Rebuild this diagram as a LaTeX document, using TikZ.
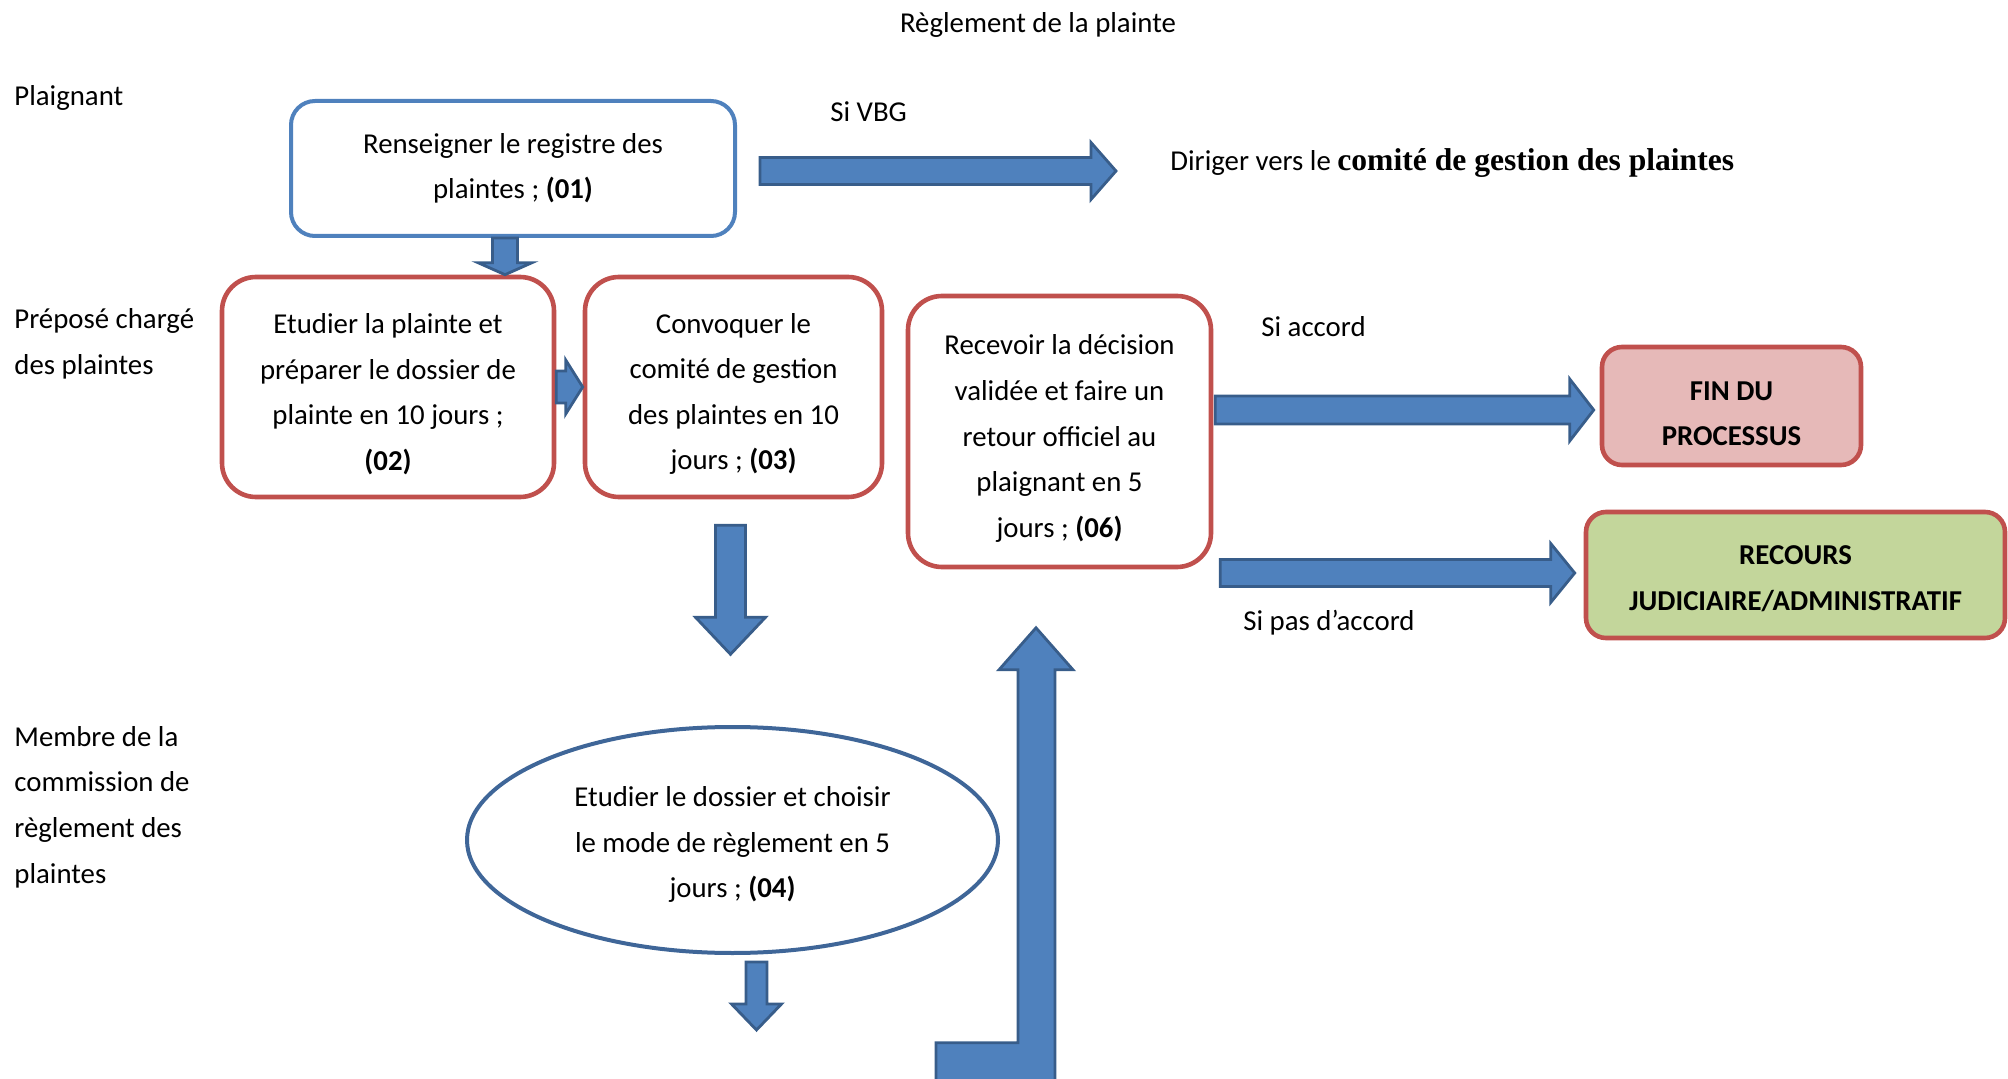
\documentclass[tikz,border=0pt]{standalone}
\usepackage{fontspec}
\setmainfont{Carlito}
\newfontfamily\serifbold{Liberation Serif}
\usetikzlibrary{calc, positioning, shapes.geometric}

\definecolor{arrowfill}{HTML}{4F81BD}
\definecolor{arrowline}{HTML}{385D8A}
\definecolor{boxblue}{HTML}{4F81BD}
\definecolor{boxred}{HTML}{C0504D}
\definecolor{ovalline}{HTML}{3F6698}
\definecolor{finfill}{HTML}{E6B9B8}
\definecolor{recfill}{HTML}{C3D69B}

\newcommand{\lift}[1]{\rule{0pt}{#1}}
\newcommand{\blockarrow}[5]{%
  \coordinate (hb) at ($(#2)!#5!(#1)$);
  \draw[arrow body] ($(#1)!#3!90:(#2)$) -- ($(hb)!#3!90:(#2)$) -- ($(hb)!#4!90:(#2)$) -- (#2)
    -- ($(hb)!#4!-90:(#2)$) -- ($(hb)!#3!-90:(#2)$) -- ($(#1)!#3!-90:(#2)$) -- cycle;}

\begin{document}
\begin{tikzpicture}[x=0.5pt, y=-0.5pt,
  every node/.style={font=\fontsize{14.4}{22.8}\selectfont, align=center, inner sep=0pt},
  lane/.style={align=left, anchor=west},
  first box/.style={draw=boxblue, line width=2pt, rounded corners=12pt, minimum width=222pt, minimum height=67.5pt},
  task box/.style={draw=boxred, line width=2.3pt, rounded corners=17pt},
  end box/.style={draw=boxred, line width=2.3pt, rounded corners=10pt, font=\fontsize{14.4}{22.8}\selectfont\bfseries},
  oval/.style={ellipse, draw=ovalline, line width=2pt, minimum width=265.5pt, minimum height=113pt},
  arrow body/.style={draw=arrowline, fill=arrowfill, line width=1.4pt, line join=miter}]
\useasboundingbox (0,0) rectangle (2008,1079);
\node (title) at (1038,25) {Règlement de la plainte};
\node[lane] (plaignant) at (14,98) {Plaignant};
\node[lane] (prepose) at (14,344) {Préposé chargé\\des plaintes};
\node[lane] (membre) at (14,807) {Membre de la\\commission de\\règlement des\\plaintes};

\node[first box] (b1) at (513,168.5) {Renseigner le registre des\\plaintes ; \textbf{(01)}};
\node[task box, minimum width=166pt, minimum height=110pt] (b2) at (388,387) {\lift{17pt}Etudier la plainte et\\préparer le dossier de\\plainte en 10 jours ;\\\textbf{(02)}};
\node[task box, minimum width=148.5pt, minimum height=110pt, right=13.2pt of b2] (b3) {\lift{17pt}Convoquer le\\comité de gestion\\des plaintes en 10\\jours ; \textbf{(03)}};
\node[task box, minimum width=151.5pt, minimum height=135.5pt] (b6) at (1059.5,431.5) {\lift{17pt}Recevoir la décision\\validée et faire un\\retour officiel au\\plaignant en 5\\jours ; \textbf{(06)}};
\node[oval] (b4) at (732.5,840) {\lift{14.5pt}Etudier le dossier et choisir\\le mode de règlement en 5\\jours ; \textbf{(04)}};
\node[end box, fill=finfill, minimum width=129.5pt, minimum height=59pt] (fin) at (1731.5,406) {\lift{17pt}FIN DU\\PROCESSUS};
\node[end box, fill=recfill, minimum width=209.5pt, minimum height=63pt] (recours) at (1795.5,575) {\lift{13pt}RECOURS\\JUDICIAIRE/ADMINISTRATIF};

\node[anchor=west] (vbg) at (830,112) {Si VBG};
\node[anchor=west] (diriger) at (1170,163) {Diriger vers le {\serifbold\fontsize{15.8}{20}\selectfont\bfseries comité de gestion des plaintes}};
\node[anchor=west] (accord) at (1261,327) {Si accord};
\node[anchor=west] (pasaccord) at (1243,623) {Si pas d’accord};

\coordinate (t1) at ($(b1.east)+(23,2.5)$);
\coordinate (h1) at ($(t1)+(356,0)$);
\coordinate (t2) at ($(b1.south)+(-8,0)$);
\coordinate (h2) at (t2 |- b2.north);
\coordinate (t3) at (b2.east);
\coordinate (h3) at (b3.west);
\coordinate (t4) at ($(b3.south)+(-3,26)$);
\coordinate (h4) at ($(t4)+(0,129)$);
\coordinate (t5) at ($(b6.east)+(2,-21.5)$);
\coordinate (h5) at ($(t5 -| fin.west)+(-6,0)$);
\coordinate (t6) at ($(b6.east)+(7,141.5)$);
\coordinate (h6) at ($(t6 -| recours.west)+(-9,0)$);
\coordinate (t7) at ($(b4.south)+(24,7)$);
\coordinate (h7) at ($(t7)+(0,68)$);
\coordinate (h8) at ($(b6.south)+(-23.5,58.5)$);

\foreach \ta/\tb/\sw/\hw/\hl in {t1/h1/6.75pt/14.25pt/12.5pt, t2/h2/6.25pt/13.5pt/6pt,
    t3/h3/8pt/13.5pt/8.5pt, t4/h4/7.5pt/17.5pt/18.5pt, t5/h5/7pt/15.5pt/12pt,
    t6/h6/6.75pt/14.75pt/12pt, t7/h7/5.25pt/12.5pt/13pt}{
    \blockarrow{\ta}{\tb}{\sw}{\hw}{\hl}}
\draw[arrow body] (h8) -- ($(h8)+(37,42)$) -- ($(h8)+(19,42)$) -- ($(h8)+(19,460)$) -- ($(h8)+(-100,460)$)
    -- ($(h8)+(-100,415)$) -- ($(h8)+(-18,415)$) -- ($(h8)+(-18,42)$) -- ($(h8)+(-37,42)$) -- cycle;
\end{tikzpicture}
\end{document}
